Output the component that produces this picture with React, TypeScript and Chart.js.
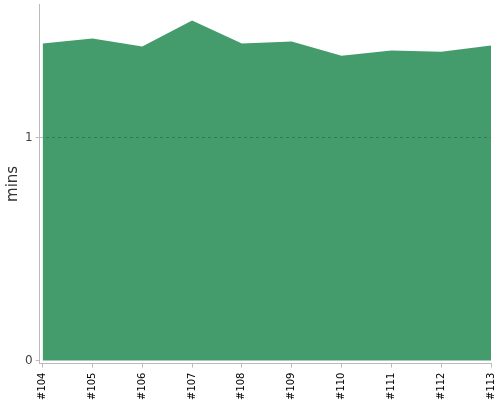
import React, { useEffect, useRef } from "react";
import Chart from "chart.js/auto";

const builds = ["#104", "#105", "#106", "#107", "#108", "#109", "#110", "#111", "#112", "#113"];
const durations = [1.423, 1.446, 1.41, 1.527, 1.423, 1.432, 1.369, 1.392, 1.387, 1.414];
const yTicks = [0, 1];

function DurationChart() {
  const canvasRef = useRef<HTMLCanvasElement>(null);

  useEffect(() => {
    const ctx = canvasRef.current?.getContext("2d");
    if (!ctx) return;

    const chart = new Chart(ctx, {
      type: "line",
      data: {
        datasets: [
          {
            data: durations.map((v, i) => ({ x: i, y: v })),
            backgroundColor: "#449c6c",
            borderWidth: 0,
            pointRadius: 0,
            fill: "origin",
            tension: 0,
          },
        ],
      },
      options: {
        animation: false,
        responsive: true,
        maintainAspectRatio: false,
        layout: { padding: 0 },
        plugins: { legend: { display: false }, tooltip: { enabled: false } },
        scales: {
          x: {
            type: "linear",
            min: -0.06,
            max: builds.length - 1,
            afterBuildTicks: (axis) => {
              axis.ticks = builds.map((_, i) => ({ value: i }));
            },
            ticks: {
              autoSkip: false,
              minRotation: 90,
              maxRotation: 90,
              padding: 5,
              color: "#000",
              font: { family: "DejaVu Sans", size: 10 },
              callback: (value) => builds[value as number] ?? "",
            },
            grid: {
              drawOnChartArea: false,
              tickLength: 4,
              tickColor: "#bbb",
            },
            border: { color: "#bbb", width: 1 },
          },
          y: {
            min: -0.0135,
            max: 1.6,
            afterBuildTicks: (axis) => {
              axis.ticks = yTicks.map((v) => ({ value: v }));
            },
            ticks: {
              padding: 3,
              color: "#444",
              font: { family: "DejaVu Sans", size: 12 },
            },
            grid: {
              z: 1,
              tickLength: 4,
              tickColor: "#bbb",
              tickBorderDash: [],
              color: (c) => (c.tick && c.tick.value === 1 ? "rgba(0,0,0,0.22)" : "rgba(0,0,0,0)"),
            },
            border: { z: 1, color: "#bbb", width: 1, dash: [3, 3] },
            title: {
              display: true,
              text: "mins",
              color: "#333",
              padding: { top: 4, bottom: 0 },
              font: { family: "DejaVu Sans", size: 15 },
            },
          },
        },
      },
    });

    return () => {
      chart.destroy();
    };
  }, []);

  return (
    <div style={{ position: "fixed", left: 0, top: -6, width: 508, height: 411, background: "#fff" }}>
      <canvas ref={canvasRef} />
    </div>
  );
}

export default function App() {
  return <DurationChart />;
}
